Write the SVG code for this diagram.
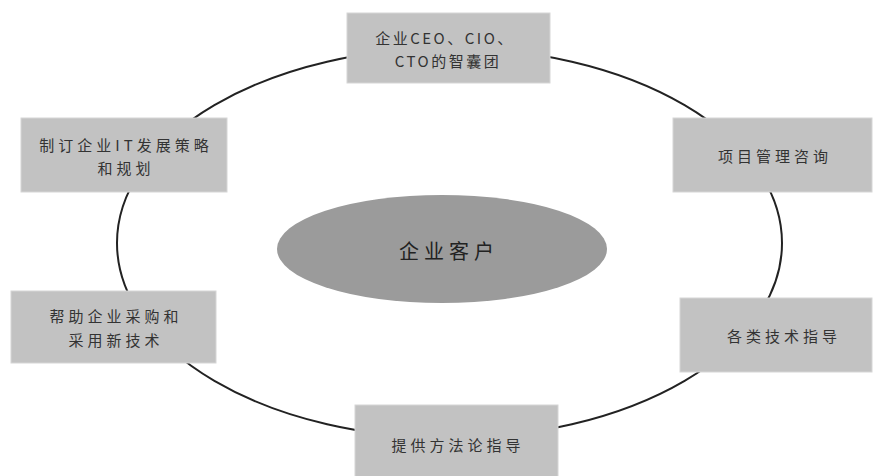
<svg xmlns="http://www.w3.org/2000/svg" width="873" height="476" viewBox="0 0 873 476">
<style>
.box{fill:#c2c2c2;stroke:#d6d6d6;stroke-width:1}
.t{font-family:"Noto Sans CJK SC","Liberation Sans",sans-serif;font-size:15px;fill:#333;letter-spacing:4px;text-anchor:middle}
.c{font-family:"Noto Sans CJK SC","Liberation Sans",sans-serif;font-size:20px;fill:#222;letter-spacing:5px;text-anchor:middle}
</style>
<rect width="873" height="476" fill="#fff"/>
<g id="connectors">
<ellipse cx="449.5" cy="243" rx="332.5" ry="195" fill="none" stroke="#222" stroke-width="2"/>
</g>
<g id="center">
<ellipse cx="442" cy="249" rx="165" ry="54" fill="#9b9b9b"/>
<text class="c" x="449" y="259">企业客户</text>
</g>
<g id="n-top">
<rect class="box" x="347" y="13" width="203" height="70"/>
<text class="t" x="445" y="44" style="letter-spacing:2.5px">企业CEO、CIO、</text>
<text class="t" x="448" y="67" style="letter-spacing:2.5px">CTO的智囊团</text>
</g>
<g id="n-left-up">
<rect class="box" x="21" y="118" width="206" height="74"/>
<text class="t" x="126" y="151">制订企业IT发展策略</text>
<text class="t" x="126" y="174">和规划</text>
</g>
<g id="n-right-up">
<rect class="box" x="673" y="118" width="199" height="74"/>
<text class="t" x="775" y="162">项目管理咨询</text>
</g>
<g id="n-left-down">
<rect class="box" x="11" y="291" width="205" height="72"/>
<text class="t" x="116" y="322">帮助企业采购和</text>
<text class="t" x="116" y="346">采用新技术</text>
</g>
<g id="n-right-down">
<rect class="box" x="680" y="298" width="192" height="74"/>
<text class="t" x="784" y="342">各类技术指导</text>
</g>
<g id="n-bottom">
<rect class="box" x="355" y="405" width="203" height="75"/>
<text class="t" x="458" y="451">提供方法论指导</text>
</g>
</svg>
